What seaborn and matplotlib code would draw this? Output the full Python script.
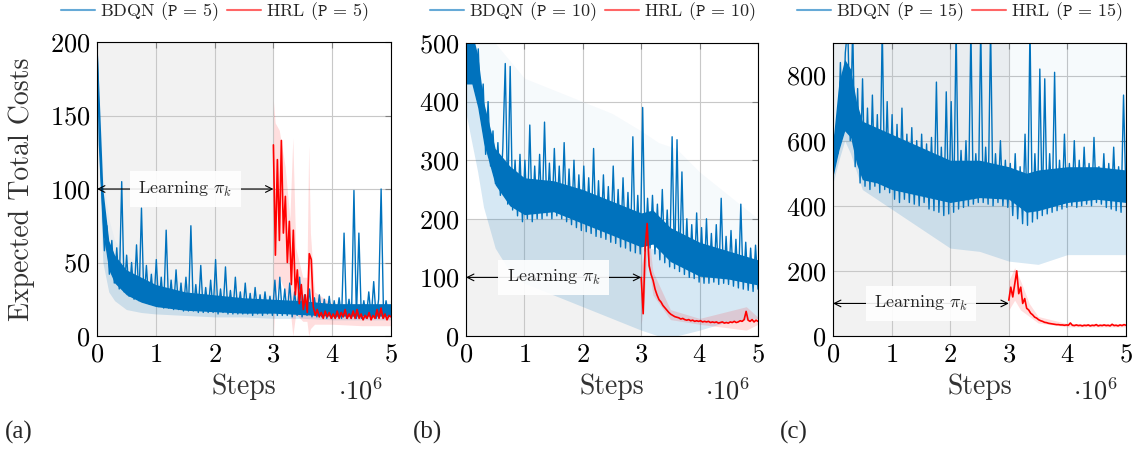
import numpy as np
import matplotlib
matplotlib.use('Agg')
import matplotlib.pyplot as plt
import seaborn as sns
from matplotlib.lines import Line2D

# ---- data (steps in millions) ----
steps_bdqn = np.linspace(0, 5, 120)
steps_hrl = np.linspace(3, 5, 60)

bdqn_a = [200, 130, 95, 58, 75, 42, 65, 36, 60, 32,
          105, 30, 55, 27, 50, 25, 62, 24, 87, 23,
          48, 22, 42, 21, 52, 20, 40, 19, 72, 19,
          38, 18, 45, 18, 36, 17, 40, 17, 75, 17,
          35, 16, 48, 16, 33, 16, 38, 16, 52, 15,
          32, 16, 47, 15, 31, 15, 40, 15, 30, 15,
          36, 15, 29, 14, 33, 15, 28, 14, 30, 15,
          27, 14, 38, 14, 40, 14, 32, 14, 36, 13,
          30, 14, 40, 13, 28, 14, 32, 13, 26, 13,
          28, 13, 25, 12, 27, 12, 24, 13, 26, 12,
          70, 12, 25, 12, 99, 12, 70, 12, 24, 12,
          30, 12, 37, 12, 25, 100, 12, 24, 13, 20]
bdqn_b = [470, 530, 440, 520, 420, 490, 380, 430, 310, 400,
          290, 350, 260, 330, 240, 320, 465, 225, 460, 215,
          300, 205, 310, 195, 300, 200, 360, 195, 290, 200,
          310, 200, 365, 205, 295, 200, 320, 205, 290, 200,
          330, 195, 285, 190, 300, 185, 275, 180, 290, 178,
          270, 175, 320, 170, 265, 168, 275, 165, 255, 160,
          290, 158, 250, 152, 270, 150, 245, 145, 340, 142,
          240, 140, 390, 145, 235, 150, 240, 140, 225, 130,
          250, 125, 215, 118, 340, 115, 335, 110, 280, 105,
          200, 100, 190, 98, 210, 92, 185, 90, 200, 90,
          175, 92, 190, 88, 235, 90, 170, 88, 180, 85,
          165, 82, 225, 80, 160, 78, 150, 76, 155, 80]
bdqn_c = [480, 620, 560, 840, 620, 870, 950, 600, 950, 520,
          760, 470, 790, 460, 700, 450, 740, 460, 680, 440,
          950, 450, 720, 440, 680, 420, 650, 410, 700, 420,
          620, 410, 640, 405, 600, 400, 620, 410, 590, 390,
          610, 385, 780, 380, 580, 370, 750, 375, 720, 380,
          950, 390, 570, 395, 600, 400, 950, 405, 560, 410,
          950, 410, 580, 405, 950, 400, 560, 410, 600, 400,
          540, 395, 530, 370, 560, 360, 520, 345, 620, 340,
          950, 350, 560, 360, 820, 370, 790, 375, 560, 380,
          810, 385, 540, 390, 620, 395, 530, 400, 600, 395,
          540, 400, 580, 405, 530, 400, 610, 410, 520, 405,
          560, 395, 530, 390, 580, 385, 520, 380, 740, 420]

hrl_a = [130, 55, 120, 65, 133, 70, 95, 50, 78, 35,
         72, 28, 45, 22, 35, 18, 28, 16, 56, 52,
         20, 14, 18, 13, 16, 12, 17, 13, 16, 12,
         15, 12, 17, 12, 16, 13, 18, 12, 15, 12,
         17, 12, 18, 12, 15, 11, 14, 12, 16, 11,
         14, 12, 18, 12, 19, 12, 15, 11, 14, 13]
hrl_b = [100, 38, 150, 192, 120, 105, 95, 80, 70, 62,
         58, 52, 48, 44, 40, 37, 35, 33, 32, 31,
         29, 30, 28, 27, 28, 26, 27, 25, 26, 25,
         26, 24, 25, 24, 25, 23, 24, 23, 24, 22,
         23, 24, 22, 23, 22, 24, 23, 25, 23, 24,
         26, 25, 28, 42, 27, 25, 28, 24, 27, 25]
hrl_c = [110, 150, 120, 160, 200, 130, 150, 100, 115, 85,
         80, 70, 65, 58, 55, 50, 47, 45, 42, 41,
         39, 38, 37, 36, 35, 35, 34, 34, 33, 34,
         33, 40, 33, 32, 34, 32, 33, 31, 33, 32,
         34, 31, 33, 32, 35, 31, 33, 32, 34, 32,
         33, 31, 36, 32, 33, 31, 34, 32, 35, 33]

# dense core of the BDQN curve (where the noisy line fills solid)
core_x_a = [0, 0.05, 0.1, 0.2, 0.3, 0.5, 0.75, 1, 1.5, 2, 2.5, 3, 3.5, 4, 4.5, 5]
core_lo_a = [190, 110, 70, 45, 36, 28, 23, 20, 17.5, 16.5, 15.5, 15.5, 14.5, 13.5, 13.5, 13.5]
core_hi_a = [200, 150, 100, 65, 55, 45, 40, 35, 30, 28, 26, 25, 24, 22, 22, 22]
core_x_b = [0, 0.1, 0.2, 0.3, 0.5, 0.75, 1, 1.5, 2, 2.5, 3, 3.2, 3.5, 4, 4.5, 5]
core_lo_b = [430, 430, 390, 330, 258, 222, 207, 212, 192, 172, 152, 157, 127, 102, 97, 87]
core_hi_b = [520, 520, 480, 400, 320, 290, 270, 265, 250, 230, 210, 215, 185, 160, 145, 130]
core_x_c = [0, 0.1, 0.2, 0.3, 0.4, 0.5, 0.75, 1, 1.5, 2, 2.5, 3, 3.3, 3.5, 4, 4.5, 5]
core_lo_c = [490, 570, 630, 610, 530, 480, 470, 450, 430, 410, 425, 420, 380, 385, 410, 420, 410]
core_hi_c = [600, 780, 850, 820, 720, 660, 640, 620, 580, 540, 540, 520, 500, 510, 520, 520, 510]

# spread bands (light shading around the mean curves)
band_x_a = [0, 0.1, 0.2, 0.3, 0.5, 0.75, 1, 1.5, 2, 2.5, 3, 3.5, 4, 4.5, 5]
band_lo_a = [150, 50, 30, 24, 18, 16, 15, 14, 13, 13, 12, 12, 11, 11, 11]
band_hi_a = [200, 110, 80, 65, 55, 48, 42, 36, 32, 30, 28, 27, 25, 25, 24]
band_x_b = [0, 0.1, 0.2, 0.3, 0.5, 0.75, 1, 1.5, 2, 2.5, 3, 3.3, 3.6, 4, 4.5, 5]
band_lo_b = [380, 330, 280, 220, 150, 110, 90, 70, 50, 30, 10, 0, 0, 10, 25, 30]
band_hi_b = [530, 530, 530, 520, 500, 470, 440, 420, 400, 380, 350, 330, 320, 280, 240, 200]
band_x_c = [0, 0.1, 0.2, 0.3, 0.5, 0.75, 1, 1.5, 2, 2.5, 3, 3.5, 4, 4.5, 5]
band_lo_c = [470, 540, 600, 560, 450, 420, 390, 330, 270, 260, 230, 220, 250, 250, 250]
band_hi_c = [950] * 15

hband_x_a = [3.0, 3.03, 3.1, 3.2, 3.28, 3.33, 3.38, 3.5, 3.57, 3.6, 3.63, 3.7, 4.0, 4.5, 5.0]
hband_lo_a = [0, 25, 40, 30, 20, 0, 15, 10, 10, 0, 5, 8, 8, 7, 7]
hband_hi_a = [160, 145, 140, 115, 80, 135, 60, 40, 40, 130, 70, 30, 22, 22, 20]
hband_x_b = [3.0, 3.05, 3.1, 3.2, 3.5, 4.0, 4.8, 5.0]
hband_lo_b = [20, 60, 140, 70, 28, 20, 10, 20]
hband_hi_b = [120, 140, 200, 110, 45, 30, 50, 32]
hband_x_c = [3.0, 3.1, 3.2, 3.35, 3.5, 4.0, 5.0]
hband_lo_c = [80, 110, 80, 60, 40, 28, 28]
hband_hi_c = [170, 210, 170, 100, 60, 38, 38]

p_values = [5, 10, 15]
y_max = [200, 500, 900]
y_ticks = [[0, 50, 100, 150, 200], [0, 100, 200, 300, 400, 500], [0, 200, 400, 600, 800]]
shade_top = [200, 200, 900]
panel_tags = ['(a)', '(b)', '(c)']

BLUE = '#0072BD'
RED = '#FF0000'

sns.set_theme(style='white')
plt.rcParams['font.family'] = 'serif'
plt.rcParams['font.serif'] = ['cmr10']
plt.rcParams['mathtext.fontset'] = 'cm'
plt.rcParams['axes.formatter.use_mathtext'] = True

W, H = 1137, 450
fig = plt.figure(figsize=(W / 100, H / 100), dpi=100)

# axes boxes in pixels: left, top, right, bottom
boxes = [(97, 42, 391, 336), (466, 43, 758, 336), (833, 43, 1126, 336)]
legend_cx = [215, 593, 960]
tag_x = [5, 413, 780]

bdqn_all = [bdqn_a, bdqn_b, bdqn_c]
hrl_all = [hrl_a, hrl_b, hrl_c]
cores = [(core_x_a, core_lo_a, core_hi_a), (core_x_b, core_lo_b, core_hi_b), (core_x_c, core_lo_c, core_hi_c)]
bands = [(band_x_a, band_lo_a, band_hi_a), (band_x_b, band_lo_b, band_hi_b), (band_x_c, band_lo_c, band_hi_c)]
hbands = [(hband_x_a, hband_lo_a, hband_hi_a), (hband_x_b, hband_lo_b, hband_hi_b), (hband_x_c, hband_lo_c, hband_hi_c)]

for k in range(3):
    l, t, r, b = boxes[k]
    ax = fig.add_axes([l / W, 1 - b / H, (r - l) / W, (b - t) / H])

    # shaded "learning" phase
    ax.fill_between([0, 3], 0, shade_top[k], color='#f2f2f2', lw=0, zorder=0)

    # spread band: stronger below the curve, faint above
    bx, blo, bhi = bands[k]
    cx_, clo, chi = cores[k]
    ax.fill_between(bx, blo, np.interp(bx, cx_, clo), color=BLUE, alpha=0.16, lw=0, zorder=1)
    ax.fill_between(bx, np.interp(bx, cx_, chi), bhi, color=BLUE, alpha=0.035, lw=0, zorder=1)
    hx, hlo, hhi = hbands[k]
    ax.fill_between(hx, hlo, hhi, color=RED, alpha=0.13, lw=0, zorder=1)

    ax.fill_between(cx_, clo, chi, color=BLUE, lw=0, zorder=2)
    sns.lineplot(x=steps_bdqn, y=bdqn_all[k], ax=ax, color=BLUE, lw=1.0,
                 estimator=None, zorder=2)
    sns.lineplot(x=steps_hrl, y=hrl_all[k], ax=ax, color=RED, lw=1.2,
                 estimator=None, zorder=3)

    ax.set_xlim(0, 5)
    ax.set_ylim(0, y_max[k])
    ax.set_xticks(range(6))
    ax.set_yticks(y_ticks[k])
    ax.set_xlabel('')
    ax.set_ylabel('')
    ax.grid(True, color='#c8c8c8', lw=0.8)
    ax.set_axisbelow(True)
    ax.tick_params(direction='in', length=4, width=0.8, color='#808080',
                   top=True, right=True, labelsize=19, pad=5, labelcolor='black')
    for s in ax.spines.values():
        s.set_color('black')
        s.set_linewidth(0.8)

    # learning pi_k annotation
    ax.annotate('', xy=(0, 100), xytext=(3, 100),
                arrowprops=dict(arrowstyle='<->', lw=0.8, color='black',
                                shrinkA=0, shrinkB=0), zorder=4)
    ax.text(1.5, 100, r'Learning $\pi_k$', ha='center', va='center', fontsize=13,
            zorder=5, bbox=dict(facecolor='white', edgecolor='none', pad=6, alpha=0.9))

    handles = [Line2D([], [], color=BLUE, lw=1.5, alpha=0.6),
               Line2D([], [], color=RED, lw=1.5, alpha=0.6)]
    labels = [r'BDQN ($\mathtt{P}$ = %d)' % p_values[k], r'HRL ($\mathtt{P}$ = %d)' % p_values[k]]
    ax.legend(handles, labels, loc='center', ncol=2, frameon=False, fontsize=13,
              bbox_to_anchor=(legend_cx[k] / W, 1 - 12 / H), bbox_transform=fig.transFigure,
              handlelength=1.9, handletextpad=0.3, columnspacing=0.4, borderpad=0)

    mid = (l + r) / 2
    fig.text(mid / W, 1 - 387 / H, 'Steps', ha='center', va='center', fontsize=20, color='#333333')
    fig.text((r - 8) / W, 1 - 391 / H, r'$\cdot 10^6$', ha='right', va='center', fontsize=19)
    fig.text(tag_x[k] / W, 1 - 432 / H, panel_tags[k], ha='left', va='center',
             fontsize=18, family='Liberation Serif')

fig.text(22 / W, 1 - 189 / H, 'Expected Total Costs', rotation=90, ha='center', va='center',
         fontsize=20, color='#333333')

fig.savefig('out.png', dpi=100)
